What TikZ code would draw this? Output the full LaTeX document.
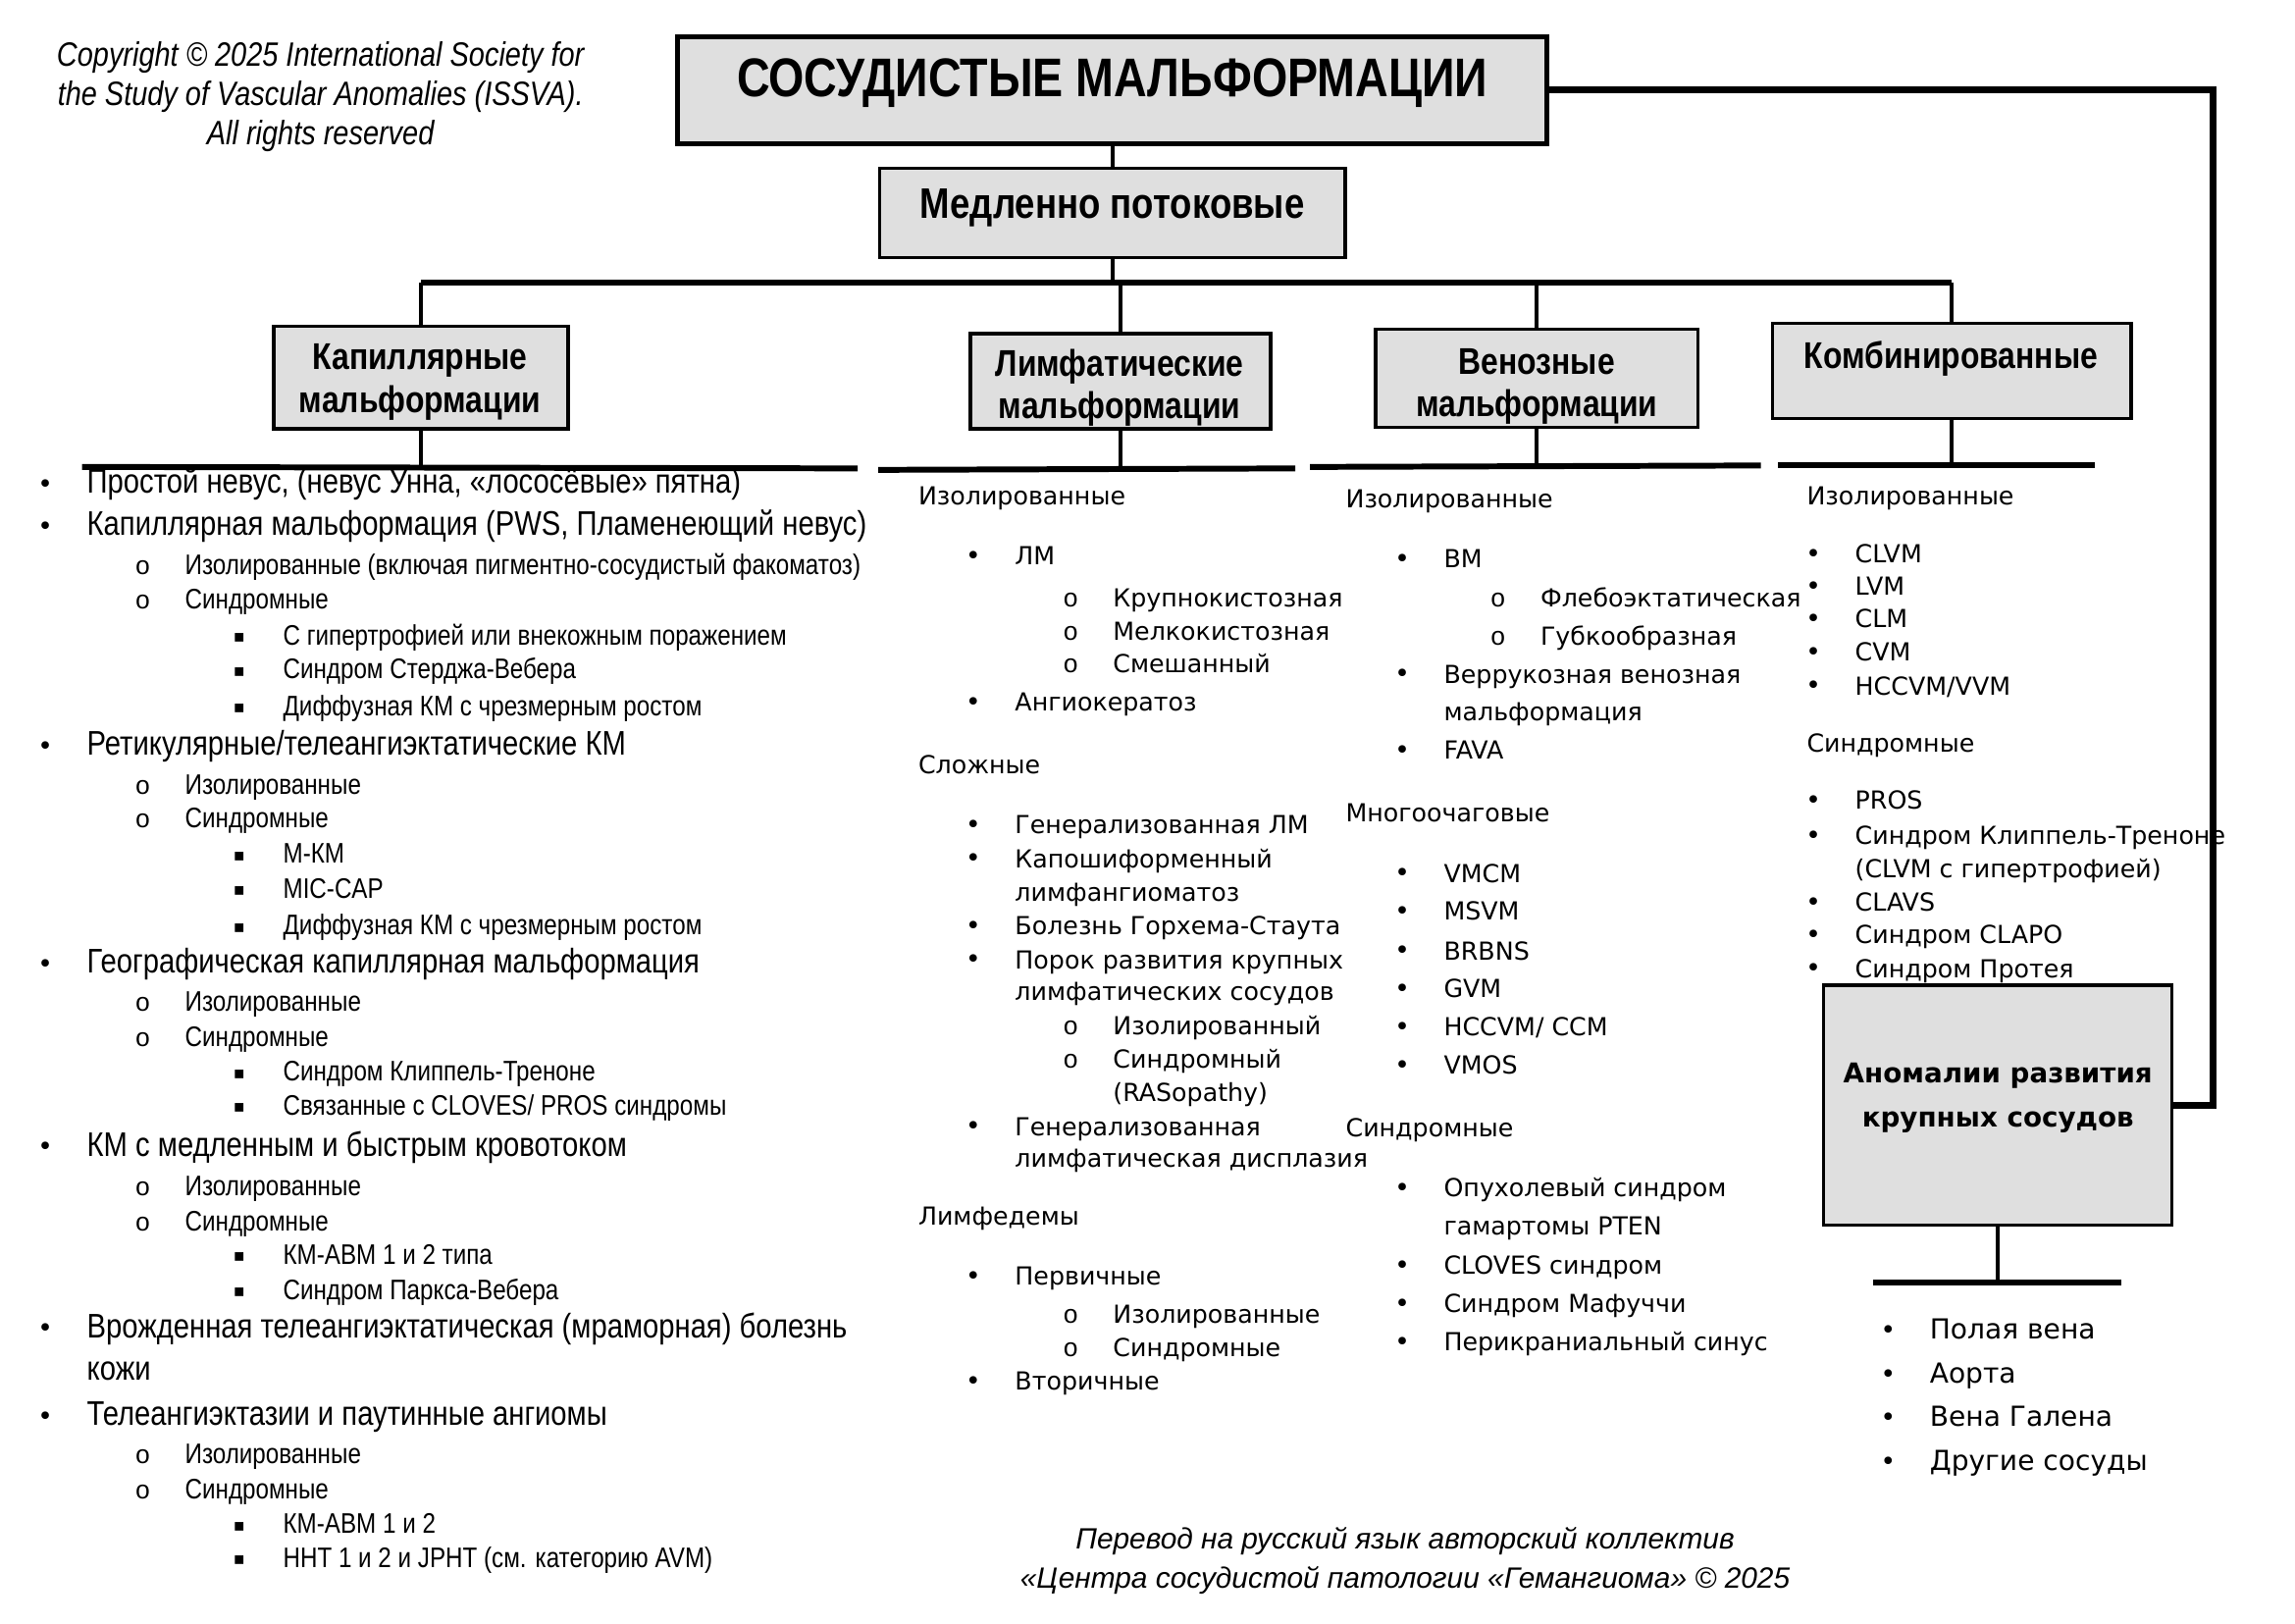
\documentclass[tikz,border=0pt]{standalone}
\usepackage{fontspec}
\usetikzlibrary{fit}
\setmainfont{Liberation Sans}
\newfontfamily\narrowfont[FakeStretch=0.84]{Liberation Sans}
\newfontfamily\widefont{DejaVu Sans}
\newfontfamily\markfont{DejaVu Sans}
\newfontfamily\ringfont{Liberation Mono}
\definecolor{boxgray}{HTML}{DFDFDF}

\tikzset{
  box/.style={draw, line width=1pt, fill=boxgray, inner sep=0pt},
  boxtxt/.style={align=center, inner sep=0pt,
                 font=\narrowfont\fontsize{10.8}{12.3}\selectfont\bfseries},
  link/.style={line width=1.2pt},
  bus/.style={line width=1.9pt},
  rule/.style={line width=1.7pt},
  entry/.style={anchor=west, inner sep=0pt, text height=6pt, text depth=2pt},
  bulglyph/.style={anchor=center, inner sep=0pt,
                   font=\markfont\fontsize{7.5}{8}\selectfont},
  dotmark/.style={label={[bulglyph, xshift=-0.418cm]180:•}},
  ringmark/.style={label={[bulglyph, xshift=-0.425cm,
                   font=\ringfont\fontsize{7.5}{8}\selectfont]180:o}},
  sqmark/.style={label={[bulglyph, xshift=-0.44cm,
                 font=\markfont\fontsize{5}{6}\selectfont]180:▪}},
  l0/.style={entry, font=\narrowfont\fontsize{9.9}{11}\selectfont},
  l1/.style={l0, dotmark},
  l2/.style={entry, font=\narrowfont\fontsize{8.2}{9}\selectfont, ringmark},
  l3/.style={entry, font=\narrowfont\fontsize{8.2}{9}\selectfont, sqmark},
  m0/.style={entry, font=\widefont\fontsize{7.2}{9}\selectfont},
  m1/.style={m0, dotmark},
  m2/.style={m0, ringmark},
  a1/.style={entry, font=\widefont\fontsize{8}{10}\selectfont, dotmark}
}

\begin{document}
\begin{tikzpicture}[x=0.014917cm, y=-0.014917cm]
  \useasboundingbox (0,0) rectangle (1568,1109);

  % copyright note
  \node[align=center, inner sep=0pt,
        font=\narrowfont\fontsize{9.8}{11.4}\selectfont\itshape] (copyr) at (219,66)
    {Copyright © 2025 International Society for\\the Study of Vascular Anomalies (ISSVA).\\All rights reserved};

  % boxes
  \node[box, line width=1.4pt, fit={(463,25) (1057,98)}] (vm) {};
  \node[box, fit={(601,115) (919,176)}] (slow) {};
  \node[box, fit={(187,223) (388,293)}] (cap) {};
  \node[box, fit={(663,228) (868,293)}] (lym) {};
  \node[box, fit={(940,225) (1160,292)}] (ven) {};
  \node[box, fit={(1211,221) (1456,286)}] (comb) {};
  \node[box, fit={(1246,673) (1484,837)}] (anom) {};

  \node[boxtxt, font=\narrowfont\fontsize{15.8}{18}\selectfont\bfseries] (vmtxt) at (760,57)
    {СОСУДИСТЫЕ МАЛЬФОРМАЦИИ};
  \node[boxtxt, font=\narrowfont\fontsize{12.4}{14}\selectfont\bfseries] (slowtxt) at (760,142)
    {Медленно потоковые};
  \node[boxtxt] (captxt) at (287,261) {Капиллярные\\мальформации};
  \node[boxtxt] (lymtxt) at (765,265) {Лимфатические\\мальформации};
  \node[boxtxt] (ventxt) at (1050,264) {Венозные\\мальформации};
  \node[boxtxt] (combtxt) at (1333,245) {Комбинированные};
  \node[boxtxt, font=\widefont\fontsize{7.9}{12.7}\selectfont\bfseries] (anomtxt) at (1365,750)
    {Аномалии развития\\крупных сосудов};

  % connectors
  \coordinate (busY) at (764,193);
  \coordinate (rc) at (1512,0);
  \draw[link] (vm.south) -- (slow.north);
  \draw[link] (slow.south) -- (slow.south |- busY);
  \draw[bus] (cap.north |- busY) -- (comb.north |- busY);
  \foreach \b in {cap,lym,ven,comb}
    \draw[link] (\b.north |- busY) -- (\b.north);
  \draw[bus] (vm.east) -- (vm.east -| rc) -- (anom.east -| rc) -- (anom.east);

  % rules under the boxes
  \coordinate (capL) at (56,319);   \coordinate (capR) at (586,320);
  \coordinate (lymL) at (600,321);  \coordinate (lymR) at (885,320);
  \coordinate (venL) at (895,319);  \coordinate (venR) at (1203,318);
  \coordinate (combL) at (1215,318); \coordinate (combR) at (1431,318);
  \coordinate (anomL) at (1280,876); \coordinate (anomR) at (1449,876);
  \foreach \b in {cap,lym,ven,comb,anom}{
    \draw[rule] (\b L) -- (\b R);
    \draw[link] (\b.south) -- (\b.south |- \b L);
  }

  % capillary list
  \foreach \x/\y/\s/\t [count=\i] in {
      59/332/l1/{Простой невус, (невус Унна, «лососёвые» пятна)},
      59/361/l1/{Капиллярная мальформация (PWS, Пламенеющий невус)},
      126/388/l2/{Изолированные (включая пигментно-сосудистый факоматоз)},
      126/411/l2/{Синдромные},
      193/436/l3/{С гипертрофией или внекожным поражением},
      193/459/l3/{Синдром Стерджа-Вебера},
      193/484/l3/{Диффузная КМ с чрезмерным ростом},
      59/511/l1/{Ретикулярные/телеангиэктатические КМ},
      126/538/l2/{Изолированные},
      126/561/l2/{Синдромные},
      193/585/l3/{М-КМ},
      193/609/l3/{MIC-CAP},
      193/634/l3/{Диффузная КМ с чрезмерным ростом},
      59/660/l1/{Географическая капиллярная мальформация},
      126/686/l2/{Изолированные},
      126/710/l2/{Синдромные},
      193/734/l3/{Синдром Клиппель-Треноне},
      193/757/l3/{Связанные с CLOVES/ PROS синдромы},
      59/785/l1/{КМ с медленным и быстрым кровотоком},
      126/812/l2/{Изолированные},
      126/836/l2/{Синдромные},
      193/859/l3/{КМ-АВМ 1 и 2 типа},
      193/883/l3/{Синдром Паркса-Вебера},
      59/909/l1/{Врожденная телеангиэктатическая (мраморная) болезнь},
      59/938/l0/{кожи},
      59/969/l1/{Телеангиэктазии и паутинные ангиомы},
      126/995/l2/{Изолированные},
      126/1019/l2/{Синдромные},
      193/1043/l3/{КМ-АВМ 1 и 2},
      193/1066/l3/{ННТ 1 и 2 и JPHT (см. категорию AVM)}}
    \node[\s] (capi\i) at (\x,\y) {\t};

  % lymphatic list
  \foreach \x/\y/\s/\t [count=\i] in {
      627/340/m0/{Изолированные},
      693/381/m1/{ЛМ},
      760/410/m2/{Крупнокистозная},
      760/433/m2/{Мелкокистозная},
      760/455/m2/{Смешанный},
      693/481/m1/{Ангиокератоз},
      627/524/m0/{Сложные},
      693/565/m1/{Генерализованная ЛМ},
      693/588/m1/{Капошиформенный},
      693/611/m0/{лимфангиоматоз},
      693/634/m1/{Болезнь Горхема-Стаута},
      693/657/m1/{Порок развития крупных},
      693/679/m0/{лимфатических сосудов},
      760/702/m2/{Изолированный},
      760/725/m2/{Синдромный},
      760/748/m0/{(RASopathy)},
      693/771/m1/{Генерализованная},
      693/793/m0/{лимфатическая дисплазия},
      627/832/m0/{Лимфедемы},
      693/873/m1/{Первичные},
      760/899/m2/{Изолированные},
      760/922/m2/{Синдромные},
      693/945/m1/{Вторичные}}
    \node[\s] (lymi\i) at (\x,\y) {\t};

  % venous list
  \foreach \x/\y/\s/\t [count=\i] in {
      919/342/m0/{Изолированные},
      986/383/m1/{ВМ},
      1052/410/m2/{Флебоэктатическая},
      1052/436/m2/{Губкообразная},
      986/462/m1/{Веррукозная венозная},
      986/488/m0/{мальформация},
      986/514/m1/{FAVA},
      919/557/m0/{Многоочаговые},
      986/598/m1/{VMCM},
      986/624/m1/{MSVM},
      986/651/m1/{BRBNS},
      986/677/m1/{GVM},
      986/703/m1/{HCCVM/ CCM},
      986/729/m1/{VMOS},
      919/772/m0/{Синдромные},
      986/813/m1/{Опухолевый синдром},
      986/839/m0/{гамартомы PTEN},
      986/866/m1/{CLOVES синдром},
      986/892/m1/{Синдром Мафуччи},
      986/918/m1/{Перикраниальный синус}}
    \node[\s] (veni\i) at (\x,\y) {\t};

  % combined list
  \foreach \x/\y/\s/\t [count=\i] in {
      1234/340/m0/{Изолированные},
      1267/380/m1/{CLVM},
      1267/402/m1/{LVM},
      1267/424/m1/{CLM},
      1267/447/m1/{CVM},
      1267/470/m1/{HCCVM/VVM},
      1234/509/m0/{Синдромные},
      1267/548/m1/{PROS},
      1267/572/m1/{Синдром Клиппель-Треноне},
      1267/595/m0/{(CLVM с гипертрофией)},
      1267/618/m1/{CLAVS},
      1267/640/m1/{Синдром CLAPO},
      1267/663/m1/{Синдром Протея}}
    \node[\s] (combi\i) at (\x,\y) {\t};

  % large vessel list
  \foreach \y/\t [count=\i] in {910/{Полая вена}, 940/{Аорта}, 970/{Вена Галена}, 1000/{Другие сосуды}}
    \node[a1] (anomi\i) at (1318,\y) {\t};

  % translation note
  \node[align=center, inner sep=0pt, font=\fontsize{8.5}{11.4}\selectfont\itshape] (transl) at (960,1066)
    {Перевод на русский язык авторский коллектив\\«Центра сосудистой патологии «Гемангиома» © 2025};
\end{tikzpicture}
\end{document}
